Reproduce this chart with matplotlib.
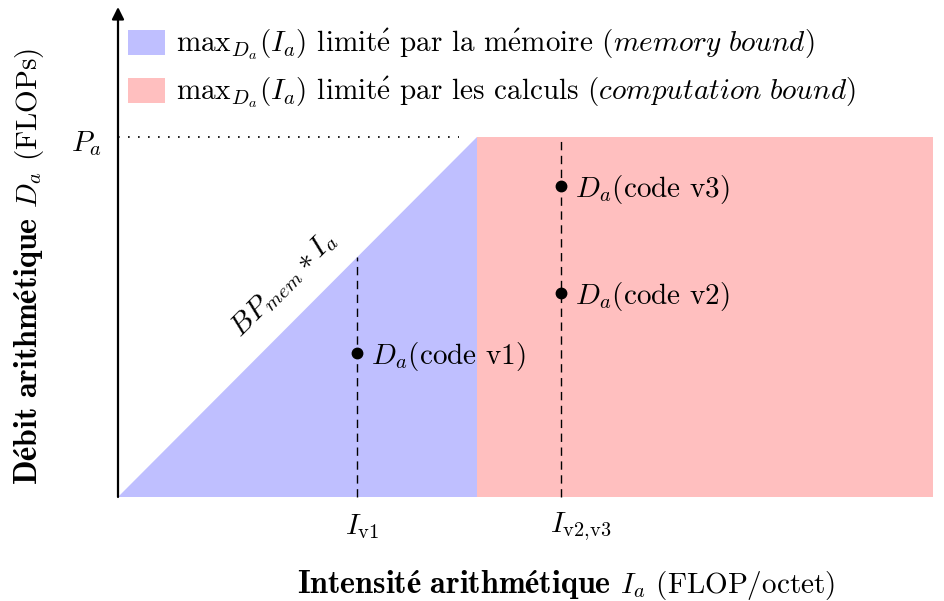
import numpy as np
import matplotlib
matplotlib.use("Agg")
import matplotlib.pyplot as plt
from matplotlib.patches import Rectangle

plt.rcParams['mathtext.fontset'] = 'cm'
plt.rcParams['font.family'] = ['cmr10', 'STIXGeneral']
plt.rcParams['axes.unicode_minus'] = False

# roofline model, normalised: ridge point at I=1, peak P_a = 1
I_ridge = 1.0
P_peak = 1.0
I_end = 2.27
code_names = ['v1', 'v2', 'v3']
code_I = [0.666, 1.234, 1.234]
code_D = [0.40, 0.567, 0.864]
tick_labels = [r'$I_{\mathrm{v1}}$', r'$I_{\text{v2,v3}}$']
tick_I = [0.666, 1.234]
E = r'$\acute{\mathrm{e}}$'   # cmr10 has no usable é glyph
leg_labels = [r'$\mathrm{max}_{D_a}(I_a)$ limit' + E + ' par la m' + E + r'moire ($\mathit{memory\ bound}$)',
              r'$\mathrm{max}_{D_a}(I_a)$ limit' + E + r' par les calculs ($\mathit{computation\ bound}$)']
xlabel = [r'$\mathbf{Intensité\ arithmétique}$', r' $I_a$ (FLOP/octet)']
ylabel = [r'$\mathbf{Débit\ arithmétique}$', r' $D_a$ (FLOPs)']
blue = '#bfbfff'
red = '#ffbfbf'
FS = 21
FSB = 23

W, H = 945, 601
X0, Y0 = 118, 497      # origin in pixels
SX, SY = 359, 360      # pixels per unit


def px(x):
    return (x - X0) / SX


def py(y):
    return (Y0 - y) / SY


fig = plt.figure(figsize=(W / 100, H / 100), dpi=100)
ax = fig.add_axes([0, 0, 1, 1])
ax.set_xlim(px(0), px(W))
ax.set_ylim(py(H), py(0))
ax.axis('off')
renderer = fig.canvas.get_renderer()


def pieces(parts, sizes, x, y, vertical=False):
    # place text runs one after another along the baseline (pixel coords from top-left)
    for s, fs in zip(parts, sizes):
        if vertical:
            t = fig.text(x / W, 1 - y / H, s, fontsize=fs, rotation=90,
                         rotation_mode='anchor', ha='left', va='baseline')
            y -= t.get_window_extent(renderer).height
        else:
            t = fig.text(x / W, 1 - y / H, s, fontsize=fs, ha='left', va='baseline')
            x += t.get_window_extent(renderer).width


# regions
ax.fill([0, I_ridge, I_ridge], [0, P_peak, 0], color=blue, lw=0)
ax.add_patch(Rectangle((I_ridge, 0), I_end - I_ridge, P_peak, color=red, lw=0))

# peak dotted line
ax.plot([0, I_ridge * 0.95], [P_peak, P_peak], color='black', lw=1.2,
        linestyle=(0, (1, 5)))

# dashed verticals
ax.plot([code_I[0], code_I[0]], [0, code_I[0] * P_peak / I_ridge], 'k--', lw=1,
        dashes=(6, 4))
ax.plot([code_I[1], code_I[1]], [0, P_peak], 'k--', lw=1, dashes=(6, 4))

# code points
ax.plot(code_I, code_D, 'o', color='black', ms=7.5)
for i, d, n in zip(code_I, code_D, code_names):
    ax.text(i + 14 / SX, d - 11 / SY, r'$D_a$(code %s)' % n, fontsize=FS,
            va='baseline', ha='left')

# axes arrows
ap = dict(arrowstyle='-|>', lw=1.6, color='black', mutation_scale=18,
          shrinkA=0, shrinkB=0)
ax.annotate('', xy=(px(946), 0), xytext=(0, 0), arrowprops=ap)
ax.annotate('', xy=(0, py(7)), xytext=(0, 0), arrowprops=ap)

# tick labels
ax.text(px(362), py(527), tick_labels[0], fontsize=FS, ha='center', va='center')
ax.text(px(581), py(527), tick_labels[1], fontsize=FS, ha='center', va='center')
ax.text(px(71), py(151), r'$P_a$', fontsize=FS, ha='left', va='baseline')

# slope label
ax.text(px(284), py(284), r'$BP_{mem} * I_a$', fontsize=FS, rotation=45,
        ha='center', va='center', rotation_mode='anchor')

# axis titles
pieces(xlabel, [FSB, FS], 297, 593)
pieces(ylabel, [FSB, FS], 37, 485, vertical=True)

# legend
for k, (lab, c) in enumerate(zip(leg_labels, [blue, red])):
    top = 30 + 48 * k
    fig.patches.append(Rectangle((128 / W, 1 - (top + 25) / H), 37 / W, 25 / H,
                                 transform=fig.transFigure, color=c, lw=0))
    fig.text(176 / W, 1 - (top + 22) / H, lab, fontsize=FS, ha='left', va='baseline')

fig.savefig('out.png', dpi=100)
